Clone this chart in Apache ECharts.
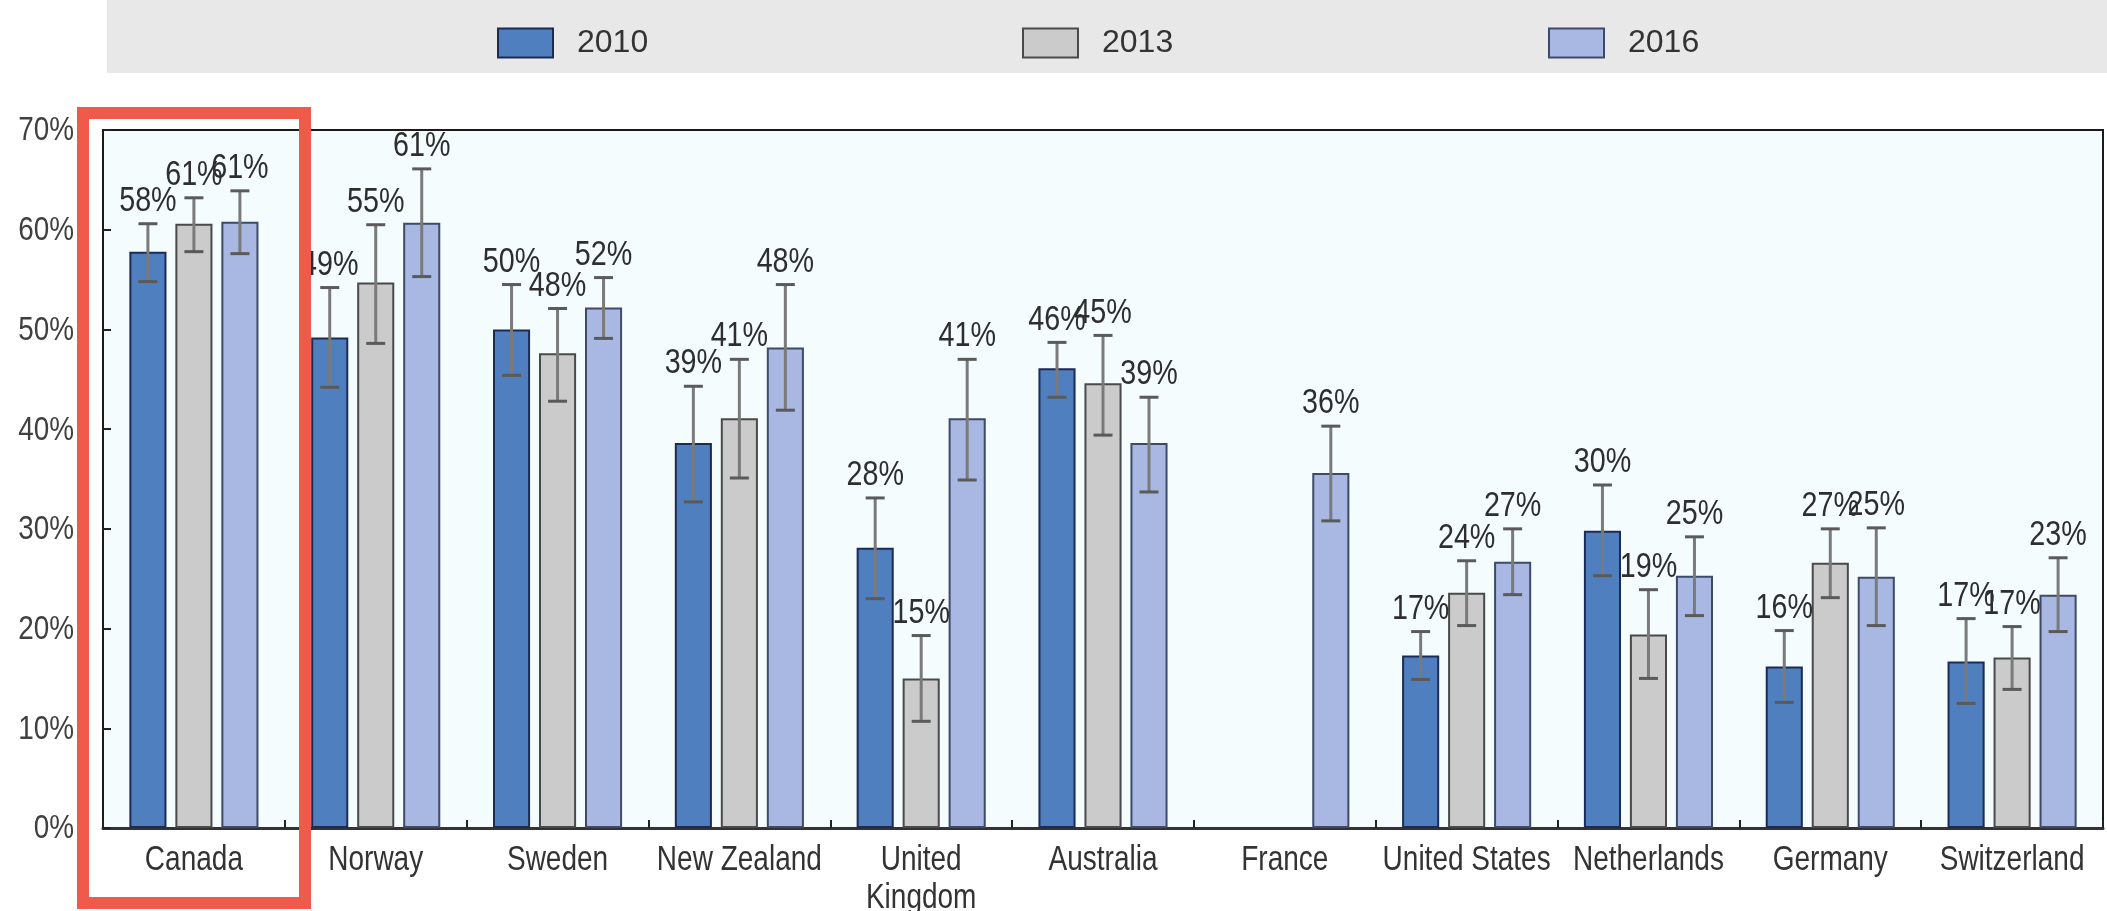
<!DOCTYPE html>
<html>
<head>
<meta charset="utf-8">
<script src="https://cdn.jsdelivr.net/npm/echarts@6/dist/echarts.min.js"></script>
<style>
html,body{margin:0;padding:0;background:#fff;}
#chart{width:2107px;height:911px;}
</style>
</head>
<body>
<div id="chart"></div>
<script>
const categories = ['Canada','Norway','Sweden','New Zealand','United\nKingdom','Australia','France','United States','Netherlands','Germany','Switzerland'];
const years = ['2010','2013','2016'];

const values2010 = [57.8, 49.2, 50.0, 38.6, 28.1, 46.1, null, 17.3, 29.8, 16.2, 16.7];
const values2013 = [60.6, 54.7, 47.6, 41.1, 15.0, 44.6, null, 23.6, 19.4, 26.6, 17.1];
const values2016 = [60.8, 60.7, 52.2, 48.2, 41.1, 38.6, 35.6, 26.7, 25.3, 25.2, 23.4];

const low2010  = [54.8, 44.2, 45.4, 32.7, 23.0, 43.2, null, 14.9, 25.3, 12.6, 12.5];
const high2010 = [60.6, 54.2, 54.5, 44.3, 33.1, 48.7, null, 19.7, 34.4, 19.8, 21.0];
const low2013  = [57.8, 48.6, 42.8, 35.1, 10.7, 39.4, null, 20.3, 15.0, 23.1, 13.9];
const high2013 = [63.2, 60.5, 52.1, 47.0, 19.3, 49.4, null, 26.8, 23.9, 30.0, 20.2];
const low2016  = [57.6, 55.3, 49.1, 41.9, 34.9, 33.7, 30.8, 23.4, 21.3, 20.3, 19.7];
const high2016 = [63.9, 66.1, 55.2, 54.5, 47.0, 43.2, 40.3, 30.0, 29.2, 30.1, 27.1];

const yTicks = [0, 10, 20, 30, 40, 50, 60, 70];

const values = [values2010, values2013, values2016];
const lows = [low2010, low2013, low2016];
const highs = [high2010, high2013, high2016];

const FONT = '"Liberation Sans", Arial, sans-serif';
const NARROW = 0.82;
const fills = ['#4f7fbf', '#cbcbcb', '#a8b8e3'];
const borders = ['#1c2b55', '#4a4a4a', '#3d4a6a'];
const CAT_GAP = 0.29, BAR_GAP = 0.24, N = 3;

const chart = echarts.init(document.getElementById('chart'), null, {renderer: 'canvas'});

function errRender(si) {
  return function (params, api) {
    const bandW = api.size([1, 0])[0];
    const usable = bandW * (1 - CAT_GAP);
    const bw = usable / (N + (N - 1) * BAR_GAP);
    const off = -usable / 2 + si * bw * (1 + BAR_GAP) + bw / 2;
    const cx = api.coord([api.value(0), 0])[0] + off;
    const yLo = api.coord([api.value(0), api.value(1)])[1];
    const yHi = api.coord([api.value(0), api.value(2)])[1];
    const label = Math.round(api.value(3)) + '%';
    const cap = 9.5;
    return {
      type: 'group',
      children: [
        {type: 'line', shape: {x1: cx, y1: yHi, x2: cx, y2: yLo}, style: {stroke: '#7a7a7a', lineWidth: 3}},
        {type: 'line', shape: {x1: cx - cap, y1: yHi, x2: cx + cap, y2: yHi}, style: {stroke: '#5a5a5a', lineWidth: 3}},
        {type: 'line', shape: {x1: cx - cap, y1: yLo, x2: cx + cap, y2: yLo}, style: {stroke: '#5a5a5a', lineWidth: 3}},
        {type: 'text', x: cx, y: yHi - 5, scaleX: NARROW, style: {text: label, align: 'center', verticalAlign: 'bottom',
          font: '35px ' + FONT, fill: '#2e2e2e'}}
      ]
    };
  };
}

const series = [];
years.forEach((y, i) => {
  series.push({
    name: y, type: 'bar', data: values[i],
    barCategoryGap: (CAT_GAP * 100) + '%', barGap: (BAR_GAP * 100) + '%',
    itemStyle: {color: fills[i], borderColor: borders[i], borderWidth: 2},
    emphasis: {disabled: true},
    z: 2
  });
});
years.forEach((y, i) => {
  const d = [];
  categories.forEach((c, k) => {
    if (values[i][k] != null) d.push([k, lows[i][k], highs[i][k], values[i][k]]);
  });
  series.push({
    name: y + ' err', type: 'custom', renderItem: errRender(i), data: d,
    encode: {x: 0, y: [1, 2]}, z: 5, silent: true
  });
});

// category axis labels (narrow lettering)
series.push({
  name: 'xlabels', type: 'custom', silent: true, z: 6,
  data: categories.map((c, k) => [k, 0]),
  encode: {x: 0, y: 1},
  renderItem: function (params, api) {
    const k = api.value(0);
    const cs = params.coordSys;
    return {type: 'text', x: api.coord([k, 0])[0], y: cs.y + cs.height + 13, scaleX: 0.8,
      style: {text: categories[k], align: 'center', verticalAlign: 'top', lineHeight: 38,
        font: '35px ' + FONT, fill: '#333'}};
  }
});
// value axis labels (narrow lettering)
series.push({
  name: 'ylabels', type: 'custom', silent: true, z: 6,
  data: yTicks.map(v => [0, v]),
  encode: {x: 0, y: 1},
  renderItem: function (params, api) {
    const v = api.value(1);
    const cs = params.coordSys;
    return {type: 'text', x: cs.x - 29, y: api.coord([0, v])[1] + 1, scaleX: NARROW,
      style: {text: v + '%', align: 'right', verticalAlign: 'middle',
        font: '34px ' + FONT, fill: '#404040'}};
  }
});

function legendAt(name, left) {
  return {
    data: [name], left: left, top: 22, itemWidth: 55, itemHeight: 29,
    icon: 'rect', selectedMode: false,
    textStyle: {fontFamily: FONT, fontSize: 32, color: '#333', padding: [0, 0, 0, 19]}
  };
}

chart.setOption({
  animation: false,
  backgroundColor: '#ffffff',
  legend: [legendAt('2010', 492), legendAt('2013', 1017), legendAt('2016', 1543)],
  graphic: [
    {type: 'rect', left: 107, top: 0, z: -10, shape: {width: 2000, height: 73}, style: {fill: '#e8e8e8'}},
    {type: 'rect', left: 77, top: 107, z: 100, shape: {width: 222, height: 790},
      style: {fill: 'none', stroke: '#f05a4a', lineWidth: 12}}
  ],
  grid: {left: 103, right: 4, top: 130, bottom: 83, show: true, backgroundColor: '#f4fcfe',
    borderColor: '#1a1a1a', borderWidth: 2, containLabel: false},
  xAxis: {
    type: 'category', data: categories,
    axisLine: {show: true, lineStyle: {color: '#333', width: 3}},
    axisTick: {show: true, inside: true, length: 8, alignWithLabel: false, lineStyle: {color: '#222', width: 2}},
    axisLabel: {show: false},
    splitLine: {show: false}
  },
  yAxis: {
    type: 'value', min: 0, max: 70, interval: 10,
    axisLine: {show: true, lineStyle: {color: '#1a1a1a', width: 2}},
    axisTick: {show: true, inside: true, length: 8, lineStyle: {color: '#222', width: 2}},
    axisLabel: {show: false},
    splitLine: {show: false}
  },
  series: series
});
</script>
</body>
</html>
